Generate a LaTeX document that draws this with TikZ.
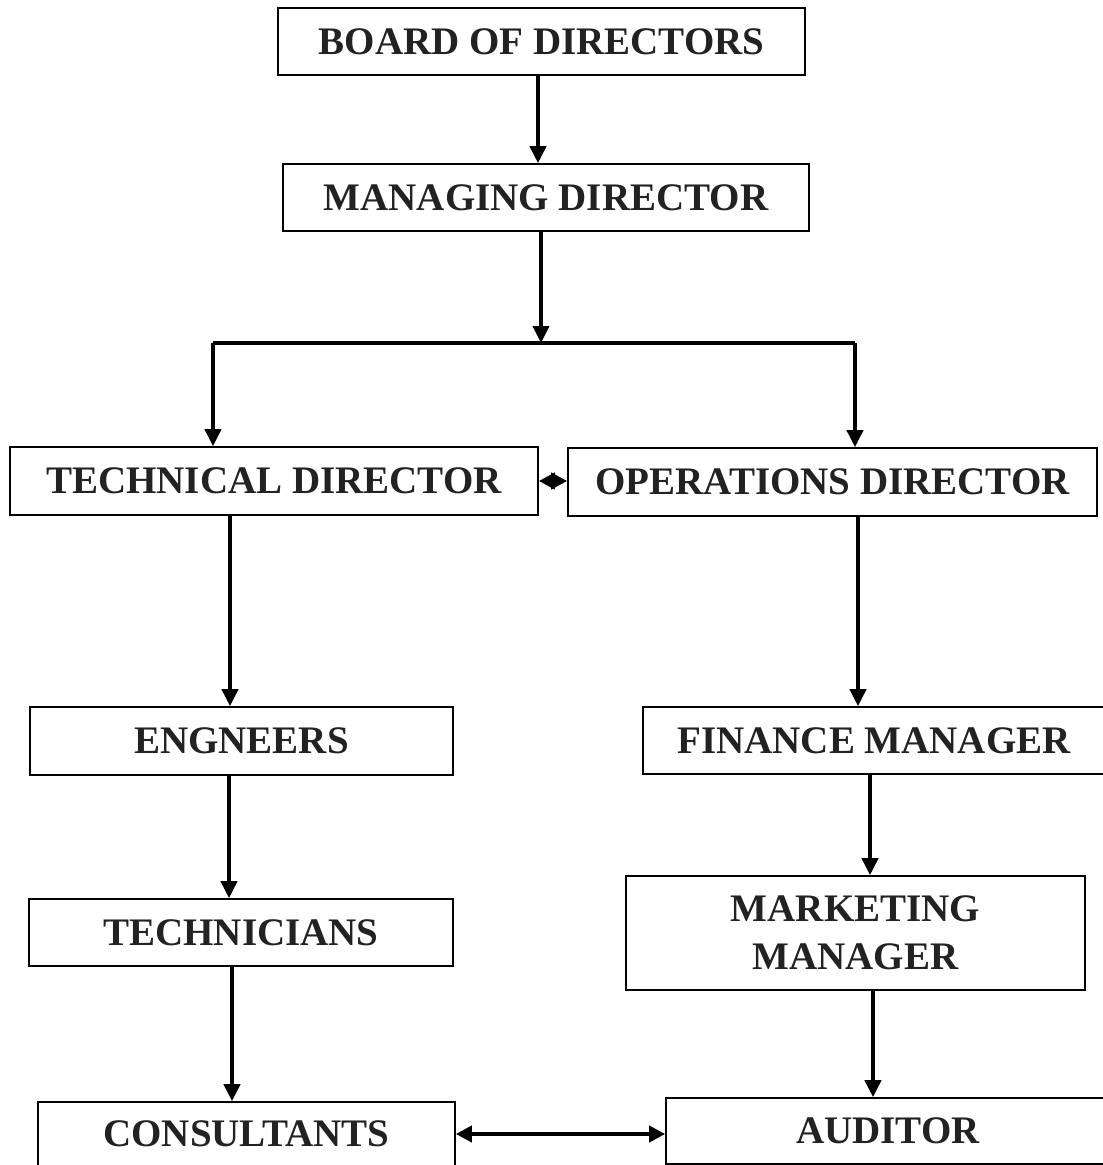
\documentclass[tikz,border=0pt]{standalone}
\usepackage{fontspec}
\setmainfont{Liberation Serif}
\usetikzlibrary{arrows.meta}
\definecolor{txt}{HTML}{222222}
\tikzset{
  box/.style={draw=black, line width=1.6pt, inner sep=0pt, align=center, text=txt,
    font=\bfseries\fontsize{39}{48}\selectfont},
  arr/.style={line width=3.8pt, -{Triangle[length=17pt,width=16pt]}},
  darr/.style={line width=3.8pt, {Triangle[length=16pt,width=16pt]}-{Triangle[length=16pt,width=16pt]}}
}
\begin{document}
\begin{tikzpicture}[x=1pt,y=-1pt]
\useasboundingbox (0,0) rectangle (1103,1165);
\clip (0,0) rectangle (1103,1165);
\node[box, minimum width=527pt, minimum height=67pt] (board) at (541.5,41.5) {BOARD OF DIRECTORS};
\node[box, minimum width=526pt, minimum height=67pt] (md) at (546,197.5) {MANAGING DIRECTOR};
\node[box, minimum width=528pt, minimum height=68pt] (td) at (274,481) {TECHNICAL DIRECTOR};
\node[box, minimum width=529pt, minimum height=68pt] (od) at (832.5,482) {OPERATIONS DIRECTOR};
\node[box, minimum width=423pt, minimum height=68pt] (eng) at (241.5,741) {ENGNEERS};
\node[box, minimum width=462pt, minimum height=67pt] (fin) at (874,740.5) {FINANCE MANAGER};
\node[box, minimum width=424pt, minimum height=67pt] (tech) at (241,932.5) {TECHNICIANS};
\node[box, minimum width=459pt, minimum height=114pt] (mkt) at (855.5,933) {MARKETING\\MANAGER};
\node[box, minimum width=417pt, minimum height=64pt] (cons) at (246.5,1134) {CONSULTANTS};
\node[box, minimum width=444pt, minimum height=66pt] (aud) at (888,1131) {AUDITOR};
\coordinate (mdj) at (541,343);
\coordinate (bl) at (213,343);
\coordinate (br) at (855,343);
\draw[arr] ([xshift=-3.5pt]board.south) -- ([xshift=-3.5pt]board.south |- md.north);
\draw[arr] (md.south -| mdj) -- (mdj);
\draw[line width=3.8pt] (bl) -- (br);
\draw[arr] (bl) -- (bl |- td.north);
\draw[arr] (br) -- (br |- od.north);
\draw[darr] (td.east) -- (td.east -| od.west);
\draw[arr] ([xshift=-44pt]td.south) -- ([xshift=-44pt]td.south |- eng.north);
\draw[arr] ([xshift=25.5pt]od.south) -- ([xshift=25.5pt]od.south |- fin.north);
\draw[arr] ([xshift=-12.5pt]eng.south) -- ([xshift=-12.5pt]eng.south |- tech.north);
\draw[arr] ([xshift=-4pt]fin.south) -- ([xshift=-4pt]fin.south |- mkt.north);
\draw[arr] ([xshift=-9pt]tech.south) -- ([xshift=-9pt]tech.south |- cons.north);
\draw[arr] ([xshift=17.5pt]mkt.south) -- ([xshift=17.5pt]mkt.south |- aud.north);
\draw[darr] (cons.east) -- (cons.east -| aud.west);
\end{tikzpicture}
\end{document}
